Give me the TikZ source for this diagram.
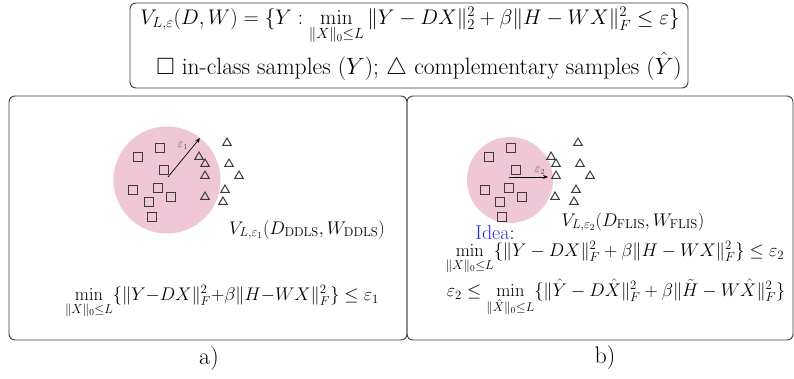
\documentclass[tikz,border=0pt]{standalone}
\usepackage{fix-cm}
\usepackage{amsmath,amssymb}
\usetikzlibrary{shapes.geometric,arrows.meta}
\definecolor{blobpink}{RGB}{239,199,214}
\definecolor{edgegray}{RGB}{60,60,60}
\definecolor{ideablue}{RGB}{40,40,240}
\tikzset{
  frame/.style={draw=edgegray,line width=0.9pt,rounded corners=6pt,inner sep=0pt},
  blob/.style={circle,fill=blobpink,draw=none,inner sep=0pt},
  sq/.style={rectangle,draw=edgegray,line width=0.9pt,minimum size=9.5pt,inner sep=0pt},
  tri/.style={regular polygon,regular polygon sides=3,draw=edgegray,line width=1pt,minimum size=10pt,inner sep=0pt},
  radarrow/.style={-{Stealth[length=5pt,width=4pt]},line width=0.7pt,black},
  eps/.style={text=gray!60!black,font=\fontsize{12}{13}\selectfont,inner sep=0pt},
  lbl/.style={font=\fontsize{18.3}{21}\selectfont,inner sep=0pt},
  sublbl/.style={font=\fontsize{24}{28}\selectfont,inner sep=0pt},
  toptxta/.style={font=\fontsize{21.1}{25}\selectfont,inner sep=0pt},
  toptxtb/.style={font=\fontsize{23.6}{28}\selectfont,inner sep=0pt},
}
\begin{document}
\begin{tikzpicture}[x=1pt,y=-1pt]
\useasboundingbox (0,0) rectangle (794,379);
% top box
\node[frame,minimum width=558pt,minimum height=85pt] (topbox) at (409,45.5) {};
\node[toptxta] (f1) at (410,26) {$V_{L,\varepsilon}(D,W)=\{Y:\min\limits_{\|X\|_0\le L}\|Y-DX\|_2^2+\beta\|H-WX\|_F^2\le\varepsilon\}$};
\node[toptxtb] (f2) at (419,66) {$\square$ in-class samples $(Y)$; $\triangle$ complementary samples $(\hat{Y})$};
% panels
\node[frame,minimum width=398pt,minimum height=244pt] (pa) at (208,218) {};
\node[frame,minimum width=386pt,minimum height=244pt] (pb) at (600,218) {};
\node[sublbl] (la) at (209,359) {a)};
\node[sublbl] (lb) at (605,358) {b)};
% ---- panel a
\node[blob,minimum size=107pt] (ca) at (167,180) {};
\foreach \x/\y [count=\i] in {138/157,160/148,164/170,133/190,158/188,171/197,149/202,152/217}
  \node[sq] (sqa\i) at (\x,\y) {};
\foreach \x/\y [count=\i] in {227/143,199/157,205/164,229/164,205/176,239/176,225/190,205/197,223/202}
  \node[tri] (tra\i) at (\x,\y) {};
\coordinate (oa) at (168,177);
\coordinate (ea) at (200,138);
\draw[radarrow] (oa) -- (ea);
\node[eps] (epsa) at (183,146) {$\varepsilon_1$};
\node[lbl] (va) at (307,230) {$V_{L,\varepsilon_1}(D_{\mathrm{DDLS}},W_{\mathrm{DDLS}})$};
\node[lbl] (fa) at (222,302) {$\min\limits_{\|X\|_0\le L}\{\|Y{-}DX\|_F^2{+}\beta\|H{-}WX\|_F^2\}\le\varepsilon_1$};
% ---- panel b
\node[blob,minimum size=86pt] (cb) at (510,180) {};
\foreach \x/\y [count=\i] in {489/157,511/148,516/170,485/190,509/188,522/197,500/202,502/217}
  \node[sq] (sqb\i) at (\x,\y) {};
\foreach \x/\y [count=\i] in {578/143,551/157,556/164,580/164,556/176,590/176,576/190,555/197,574/202}
  \node[tri] (trb\i) at (\x,\y) {};
\coordinate (ob) at (509,177);
\coordinate (eb) at (548,177);
\draw[radarrow] (ob) -- (eb);
\node[eps] (epsb) at (540,171) {$\varepsilon_2$};
\node[lbl] (vb) at (633,222) {$V_{L,\varepsilon_2}(D_{\mathrm{FLIS}},W_{\mathrm{FLIS}})$};
\node[lbl,font=\fontsize{20}{23}\selectfont] (idea) at (495,233) {\textcolor{ideablue}{Idea}:};
\node[lbl] (fb1) at (615,258) {$\min\limits_{\|X\|_0\le L}\{\|Y-DX\|_F^2+\beta\|H-WX\|_F^2\}\le\varepsilon_2$};
\node[lbl] (fb2) at (616,298) {$\varepsilon_2\le\min\limits_{\|\hat{X}\|_0\le L}\{\|\hat{Y}-D\hat{X}\|_F^2+\beta\|\tilde{H}-W\hat{X}\|_F^2\}$};
\end{tikzpicture}
\end{document}
